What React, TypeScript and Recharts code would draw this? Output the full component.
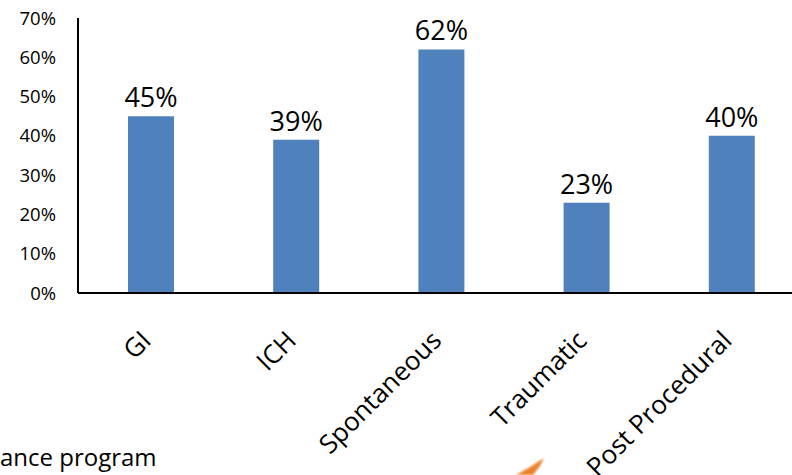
import React from 'react';
import { BarChart, Bar, XAxis, YAxis, LabelList } from 'recharts';

const categories = ['GI', 'ICH', 'Spontaneous', 'Traumatic', 'Post Procedural'];
const percentages = [45, 39, 62, 23, 40];
const yTicks = [0, 10, 20, 30, 40, 50, 60, 70];

const data = categories.map((name, i) => ({ name, value: percentages[i] }));

const FONT = '"Open Sans", "Liberation Sans", sans-serif';
const BAR_COLOR = '#4F81BD';

const RotatedTick = (props: any) => {
  const { x, y, payload } = props;
  return (
    <g transform={`translate(${x - 5},${y + 34})`}>
      <text
        transform="rotate(-45)"
        textAnchor="end"
        dominantBaseline="central"
        fill="#000"
        fontSize={26}
        fontFamily={FONT}
      >
        {payload.value}
      </text>
    </g>
  );
};

const App: React.FC = () => {
  return (
    <div
      style={{
        position: 'absolute',
        left: 0,
        top: 0,
        width: 792,
        height: 475,
        overflow: 'hidden',
        background: '#fff',
      }}
    >
      <BarChart
        width={808}
        height={475}
        data={data}
        margin={{ top: 18, right: 4, bottom: 32, left: 18 }}
      >
        <XAxis
          dataKey="name"
          interval={0}
          height={150}
          tickLine={false}
          axisLine={{ stroke: '#000', strokeWidth: 2 }}
          tick={<RotatedTick />}
        />
        <YAxis
          width={60}
          domain={[0, 70]}
          ticks={yTicks}
          interval={0}
          tickLine={false}
          tickSize={0}
          tickMargin={22}
          axisLine={{ stroke: '#000', strokeWidth: 2 }}
          tickFormatter={(v: number) => `${v}%`}
          tick={{ fill: '#000', fontSize: 18.5, fontFamily: FONT }}
        />
        <Bar dataKey="value" fill={BAR_COLOR} barSize={46} isAnimationActive={false}>
          <LabelList
            dataKey="value"
            position="top"
            offset={9}
            formatter={(v: any) => `${v}%`}
            fill="#000"
            fontSize={27}
            fontFamily={FONT}
          />
        </Bar>
      </BarChart>
      <div
        style={{
          position: 'absolute',
          left: 0,
          top: 440,
          fontFamily: FONT,
          fontSize: 24,
          color: '#000',
          whiteSpace: 'nowrap',
        }}
      >
        ance program
      </div>
      <svg
        width={792}
        height={475}
        style={{ position: 'absolute', left: 0, top: 0, pointerEvents: 'none' }}
      >
        <polygon
          points="516,475 530,467 544,458 540,466 533,475"
          fill="#E8822A"
          style={{ filter: 'blur(1px)' }}
        />
      </svg>
    </div>
  );
};

export default App;
